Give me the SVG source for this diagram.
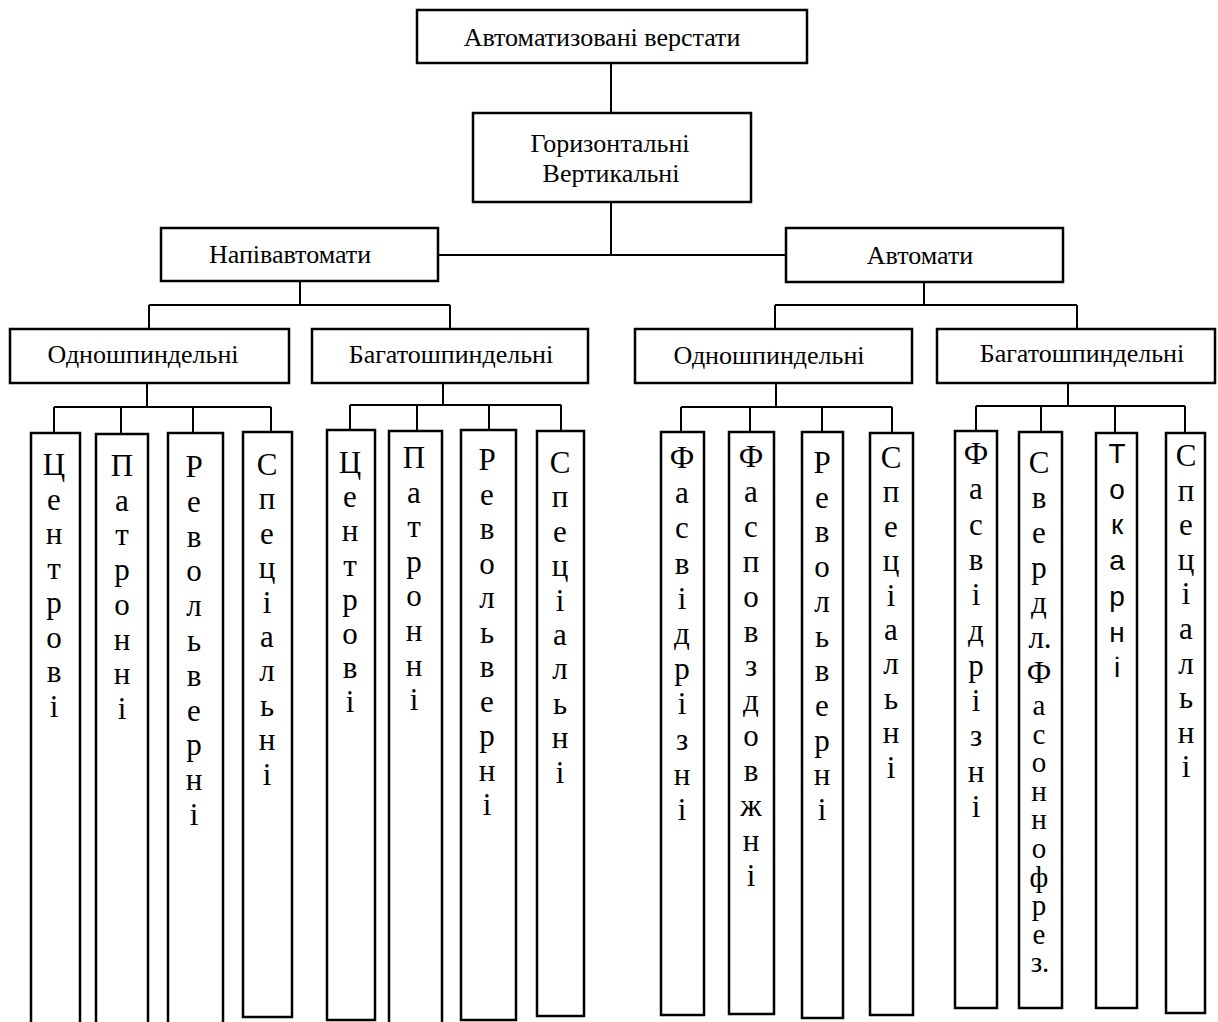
<svg xmlns="http://www.w3.org/2000/svg" width="1218" height="1022" viewBox="0 0 1218 1022">
<style>
.box{fill:#fff;stroke:#000;stroke-width:2.5}
.ln{fill:none;stroke:#000;stroke-width:2}
.h{font-family:"Liberation Serif","Times New Roman",serif;font-size:26px;fill:#000;text-anchor:middle}
.v{font-family:"Liberation Serif","Times New Roman",serif;font-size:31px;fill:#000;text-anchor:middle}
.vt{font-family:"Liberation Serif","Times New Roman",serif;font-size:29px;fill:#000;text-anchor:middle}
.vs{font-family:"Liberation Sans",Arial,sans-serif;font-size:28px;fill:#000;text-anchor:middle}
</style>
<rect width="1218" height="1022" fill="#fff"/>
<g id="connectors">
<path class="ln" d="M611 63V113"/>
<path class="ln" d="M611 202V255M438 255H786"/>
<path class="ln" d="M300 281V305M149 305H450M149 305V329M450 305V329"/>
<path class="ln" d="M924 282V305M775 305H1077M775 305V329M1077 305V329"/>
<path class="ln" d="M147 383V407M54 407H271M54 407V433M121 407V434M193 407V433M271 407V432"/>
<path class="ln" d="M443 383V405M350 405H561M350 405V430M417 405V431M489 405V430M561 405V431"/>
<path class="ln" d="M776 383V407M681 407H892M681 407V432M750 407V432M822 407V432M892 407V433"/>
<path class="ln" d="M1068 383V406M976 406H1185M976 406V431M1041 406V432M1115 406V433M1185 406V433"/>
</g>
<g id="n-root"><rect class="box" x="417" y="10" width="390" height="53"/><text class="h" x="602" y="46">Автоматизовані верстати</text></g>
<g id="n-orient"><rect class="box" x="473" y="113" width="278" height="89"/><text class="h" x="610" y="152">Горизонтальні</text><text class="h" x="611" y="182">Вертикальні</text></g>
<g id="n-semi"><rect class="box" x="161" y="228" width="277" height="53"/><text class="h" x="290" y="263">Напівавтомати</text></g>
<g id="n-auto"><rect class="box" x="786" y="228" width="277" height="54"/><text class="h" x="920" y="264">Автомати</text></g>
<g id="n-semi-single"><rect class="box" x="10" y="329" width="279" height="54"/><text class="h" x="143" y="363">Одношпиндельні</text></g>
<g id="n-semi-multi"><rect class="box" x="312" y="329" width="276" height="54"/><text class="h" x="451" y="363">Багатошпиндельні</text></g>
<g id="n-auto-single"><rect class="box" x="635" y="329" width="277" height="54"/><text class="h" x="769" y="364">Одношпиндельні</text></g>
<g id="n-auto-multi"><rect class="box" x="937" y="329" width="278" height="54"/><text class="h" x="1082" y="362">Багатошпиндельні</text></g>

<g id="n-l1"><rect class="box" x="31" y="433" width="49" height="600"/><text class="v"><tspan x="54" y="475">Ц</tspan><tspan x="54" dy="34.5">е</tspan><tspan x="54" dy="34.5">н</tspan><tspan x="54" dy="34.5">т</tspan><tspan x="54" dy="34.5">р</tspan><tspan x="54" dy="34.5">о</tspan><tspan x="54" dy="34.5">в</tspan><tspan x="54" dy="34.5">і</tspan></text></g>
<g id="n-l2"><rect class="box" x="96" y="434" width="52" height="600"/><text class="v"><tspan x="122" y="476">П</tspan><tspan x="122" dy="34.7">а</tspan><tspan x="122" dy="34.7">т</tspan><tspan x="122" dy="34.7">р</tspan><tspan x="122" dy="34.7">о</tspan><tspan x="122" dy="34.7">н</tspan><tspan x="122" dy="34.7">н</tspan><tspan x="122" dy="34.7">і</tspan></text></g>
<g id="n-l3"><rect class="box" x="168" y="433" width="55" height="600"/><text class="v"><tspan x="194" y="477">Р</tspan><tspan x="194" dy="34.8">е</tspan><tspan x="194" dy="34.8">в</tspan><tspan x="194" dy="34.8">о</tspan><tspan x="194" dy="34.8">л</tspan><tspan x="194" dy="34.8">ь</tspan><tspan x="194" dy="34.8">в</tspan><tspan x="194" dy="34.8">е</tspan><tspan x="194" dy="34.8">р</tspan><tspan x="194" dy="34.8">н</tspan><tspan x="194" dy="34.8">і</tspan></text></g>
<g id="n-l4"><rect class="box" x="243" y="432" width="49" height="585"/><text class="v"><tspan x="267" y="475">С</tspan><tspan x="267" dy="34.4">п</tspan><tspan x="267" dy="34.4">е</tspan><tspan x="267" dy="34.4">ц</tspan><tspan x="267" dy="34.4">і</tspan><tspan x="267" dy="34.4">а</tspan><tspan x="267" dy="34.4">л</tspan><tspan x="267" dy="34.4">ь</tspan><tspan x="267" dy="34.4">н</tspan><tspan x="267" dy="34.4">і</tspan></text></g>

<g id="n-m1"><rect class="box" x="327" y="430" width="48" height="590"/><text class="v"><tspan x="350" y="473">Ц</tspan><tspan x="350" dy="34.2">е</tspan><tspan x="350" dy="34.2">н</tspan><tspan x="350" dy="34.2">т</tspan><tspan x="350" dy="34.2">р</tspan><tspan x="350" dy="34.2">о</tspan><tspan x="350" dy="34.2">в</tspan><tspan x="350" dy="34.2">і</tspan></text></g>
<g id="n-m2"><rect class="box" x="389" y="431" width="53" height="600"/><text class="v"><tspan x="414" y="468">П</tspan><tspan x="414" dy="34.6">а</tspan><tspan x="414" dy="34.6">т</tspan><tspan x="414" dy="34.6">р</tspan><tspan x="414" dy="34.6">о</tspan><tspan x="414" dy="34.6">н</tspan><tspan x="414" dy="34.6">н</tspan><tspan x="414" dy="34.6">і</tspan></text></g>
<g id="n-m3"><rect class="box" x="461" y="430" width="55" height="590"/><text class="v"><tspan x="487" y="470">Р</tspan><tspan x="487" dy="34.5">е</tspan><tspan x="487" dy="34.5">в</tspan><tspan x="487" dy="34.5">о</tspan><tspan x="487" dy="34.5">л</tspan><tspan x="487" dy="34.5">ь</tspan><tspan x="487" dy="34.5">в</tspan><tspan x="487" dy="34.5">е</tspan><tspan x="487" dy="34.5">р</tspan><tspan x="487" dy="34.5">н</tspan><tspan x="487" dy="34.5">і</tspan></text></g>
<g id="n-m4"><rect class="box" x="537" y="431" width="47" height="585"/><text class="v"><tspan x="560" y="473">С</tspan><tspan x="560" dy="34.4">п</tspan><tspan x="560" dy="34.4">е</tspan><tspan x="560" dy="34.4">ц</tspan><tspan x="560" dy="34.4">і</tspan><tspan x="560" dy="34.4">а</tspan><tspan x="560" dy="34.4">л</tspan><tspan x="560" dy="34.4">ь</tspan><tspan x="560" dy="34.4">н</tspan><tspan x="560" dy="34.4">і</tspan></text></g>

<g id="n-r1"><rect class="box" x="661" y="432" width="43" height="583"/><text class="v"><tspan x="682" y="468">Ф</tspan><tspan x="682" dy="35.2">а</tspan><tspan x="682" dy="35.2">с</tspan><tspan x="682" dy="35.2">в</tspan><tspan x="682" dy="35.2">і</tspan><tspan x="682" dy="35.2">д</tspan><tspan x="682" dy="35.2">р</tspan><tspan x="682" dy="35.2">і</tspan><tspan x="682" dy="35.2">з</tspan><tspan x="682" dy="35.2">н</tspan><tspan x="682" dy="35.2">і</tspan></text></g>
<g id="n-r2"><rect class="box" x="729" y="432" width="45" height="582"/><text class="v"><tspan x="751" y="467">Ф</tspan><tspan x="751" dy="34.9">а</tspan><tspan x="751" dy="34.9">с</tspan><tspan x="751" dy="34.9">п</tspan><tspan x="751" dy="34.9">о</tspan><tspan x="751" dy="34.9">в</tspan><tspan x="751" dy="34.9">з</tspan><tspan x="751" dy="34.9">д</tspan><tspan x="751" dy="34.9">о</tspan><tspan x="751" dy="34.9">в</tspan><tspan x="751" dy="34.9">ж</tspan><tspan x="751" dy="34.9">н</tspan><tspan x="751" dy="34.9">і</tspan></text></g>
<g id="n-r3"><rect class="box" x="802" y="432" width="41" height="586"/><text class="v"><tspan x="822" y="473">Р</tspan><tspan x="822" dy="34.7">е</tspan><tspan x="822" dy="34.7">в</tspan><tspan x="822" dy="34.7">о</tspan><tspan x="822" dy="34.7">л</tspan><tspan x="822" dy="34.7">ь</tspan><tspan x="822" dy="34.7">в</tspan><tspan x="822" dy="34.7">е</tspan><tspan x="822" dy="34.7">р</tspan><tspan x="822" dy="34.7">н</tspan><tspan x="822" dy="34.7">і</tspan></text></g>
<g id="n-r4"><rect class="box" x="870" y="433" width="43" height="582"/><text class="v"><tspan x="891" y="468">С</tspan><tspan x="891" dy="34.4">п</tspan><tspan x="891" dy="34.4">е</tspan><tspan x="891" dy="34.4">ц</tspan><tspan x="891" dy="34.4">і</tspan><tspan x="891" dy="34.4">а</tspan><tspan x="891" dy="34.4">л</tspan><tspan x="891" dy="34.4">ь</tspan><tspan x="891" dy="34.4">н</tspan><tspan x="891" dy="34.4">і</tspan></text></g>

<g id="n-s1"><rect class="box" x="955" y="431" width="42" height="577"/><text class="v"><tspan x="976" y="464">Ф</tspan><tspan x="976" dy="35.3">а</tspan><tspan x="976" dy="35.3">с</tspan><tspan x="976" dy="35.3">в</tspan><tspan x="976" dy="35.3">і</tspan><tspan x="976" dy="35.3">д</tspan><tspan x="976" dy="35.3">р</tspan><tspan x="976" dy="35.3">і</tspan><tspan x="976" dy="35.3">з</tspan><tspan x="976" dy="35.3">н</tspan><tspan x="976" dy="35.3">і</tspan></text></g>
<g id="n-s2"><rect class="box" x="1019" y="432" width="43" height="576"/><text class="v"><tspan x="1039" y="473">С</tspan><tspan x="1039" dy="35">в</tspan><tspan x="1039" dy="35">е</tspan><tspan x="1039" dy="35">р</tspan><tspan x="1039" dy="35">д</tspan><tspan x="1040" dy="35">л.</tspan><tspan x="1039" dy="35">Ф</tspan></text><text class="vt"><tspan x="1039" y="715">а</tspan><tspan x="1039" dy="28.6">с</tspan><tspan x="1039" dy="28.6">о</tspan><tspan x="1039" dy="28.6">н</tspan><tspan x="1039" dy="28.6">н</tspan><tspan x="1039" dy="28.6">о</tspan><tspan x="1039" dy="28.6">ф</tspan><tspan x="1039" dy="28.6">р</tspan><tspan x="1039" dy="28.6">е</tspan><tspan x="1040" dy="28.6">з.</tspan></text></g>
<g id="n-s3"><rect class="box" x="1096" y="433" width="41" height="575"/><text class="vs"><tspan x="1117" y="463">Т</tspan><tspan x="1117" dy="35.7">о</tspan><tspan x="1117" dy="35.7">к</tspan><tspan x="1117" dy="35.7">а</tspan><tspan x="1117" dy="35.7">р</tspan><tspan x="1117" dy="35.7">н</tspan><tspan x="1117" dy="35.7">і</tspan></text></g>
<g id="n-s4"><rect class="box" x="1166" y="433" width="39" height="580"/><text class="v"><tspan x="1186" y="466">С</tspan><tspan x="1186" dy="34.6">п</tspan><tspan x="1186" dy="34.6">е</tspan><tspan x="1186" dy="34.6">ц</tspan><tspan x="1186" dy="34.6">і</tspan><tspan x="1186" dy="34.6">а</tspan><tspan x="1186" dy="34.6">л</tspan><tspan x="1186" dy="34.6">ь</tspan><tspan x="1186" dy="34.6">н</tspan><tspan x="1186" dy="34.6">і</tspan></text></g>
</svg>
